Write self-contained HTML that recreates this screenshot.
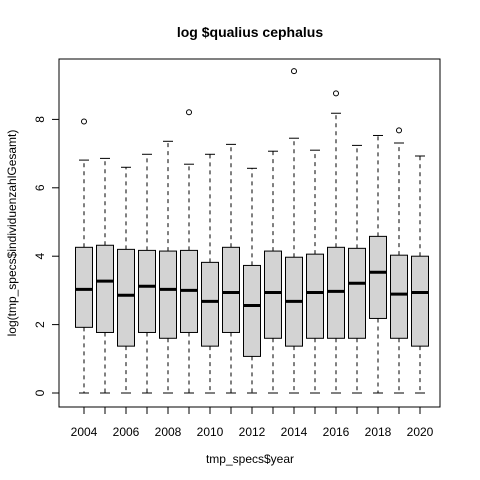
<!DOCTYPE html>
<html><head><meta charset="utf-8"><style>
body{margin:0;background:#fff}
svg{display:block;font-family:"Liberation Sans",Arial,sans-serif}
</style></head><body>
<svg id="chart" width="480" height="480" xmlns="http://www.w3.org/2000/svg">
<rect width="480" height="480" fill="#fff"/>
<text x="250" y="37" text-anchor="middle" font-size="14" font-weight="bold">log $qualius cephalus</text>
<text x="250" y="463" text-anchor="middle" font-size="12">tmp_specs$year</text>
<text transform="translate(16,233) rotate(-90)" text-anchor="middle" font-size="12">log(tmp_specs$individuenzahlGesamt)</text>
<rect x="59" y="59" width="381" height="348" fill="none" stroke="#000"/>
<g id="marks"></g>
</svg>
<script>
const years=[2004,2005,2006,2007,2008,2009,2010,2011,2012,2013,2014,2015,2016,2017,2018,2019,2020];
const mins=[0,0,0,0,0,0,0,0,0,0,0,0,0,0,0,0,0];
const q1s=[1.92,1.77,1.37,1.77,1.60,1.77,1.37,1.77,1.07,1.60,1.37,1.60,1.60,1.60,2.18,1.60,1.37];
const medians=[3.03,3.27,2.86,3.12,3.03,3.00,2.68,2.94,2.56,2.94,2.68,2.94,2.97,3.21,3.53,2.89,2.94];
const q3s=[4.26,4.32,4.20,4.17,4.15,4.17,3.82,4.26,3.73,4.15,3.97,4.06,4.26,4.23,4.58,4.03,4.00];
const maxs=[6.81,6.86,6.60,6.98,7.36,6.69,6.98,7.27,6.57,7.07,7.45,7.10,8.18,7.24,7.53,7.31,6.93];
const outlierYears=[2004,2009,2014,2016,2019];
const outlierValues=[7.94,8.21,9.41,8.76,7.68];
const yTicks=[0,2,4,6,8];
const xTickLabels=[2004,2006,2008,2010,2012,2014,2016,2018,2020];

const NS="http://www.w3.org/2000/svg";
const g=document.getElementById('marks');
const xs=i=>84+i*21;
const ys=v=>393-v*34.2;
function mk(t,a,p){const e=document.createElementNS(NS,t);for(const k in a)e.setAttribute(k,a[k]);(p||g).appendChild(e);return e;}
const bw=17;
years.forEach((yr,i)=>{
  const cx=xs(i);
  const lw1=mk('line',{x1:cx,x2:cx,y1:ys(q3s[i]),y2:ys(maxs[i]),stroke:'#000','stroke-dasharray':'4,4'});
  
  
  const lw2=mk('line',{x1:cx,x2:cx,y1:ys(q1s[i]),y2:ys(mins[i]),stroke:'#000','stroke-dasharray':'4,4'});
  
  
  const c1=mk('line',{x1:cx-5,x2:cx+5,y1:ys(maxs[i]),y2:ys(maxs[i]),stroke:'#000'});
  
  
  const c2=mk('line',{x1:cx-5,x2:cx+5,y1:ys(mins[i]),y2:ys(mins[i]),stroke:'#000'});
  
  
  const b=mk('rect',{x:cx-bw/2,y:ys(q3s[i]),width:bw,height:ys(q1s[i])-ys(q3s[i]),fill:'#d3d3d3',stroke:'#000'});
  
  
  const m=mk('line',{x1:cx-bw/2,x2:cx+bw/2,y1:ys(medians[i]),y2:ys(medians[i]),stroke:'#000','stroke-width':3});
  
  
  const t=mk('line',{x1:cx,x2:cx,y1:407,y2:414,stroke:'#000'});
  
  
});
outlierYears.forEach((yr,j)=>{
  const i=years.indexOf(yr);
  const o=mk('circle',{cx:xs(i),cy:ys(outlierValues[j]),r:2.5,fill:'none',stroke:'#000'});
  
  
});
xTickLabels.forEach(yr=>{
  const i=years.indexOf(yr);
  const t=mk('text',{x:xs(i),y:436,'text-anchor':'middle','font-size':12});
  t.textContent=yr;
  
  
});
yTicks.forEach(v=>{
  const l=mk('line',{x1:52,x2:59,y1:ys(v),y2:ys(v),stroke:'#000'});
  
  
  const t=mk('text',{transform:`translate(44,${ys(v)}) rotate(-90)`,'text-anchor':'middle','font-size':12});
  t.textContent=v;
  
  
});
</script>
</body></html>
